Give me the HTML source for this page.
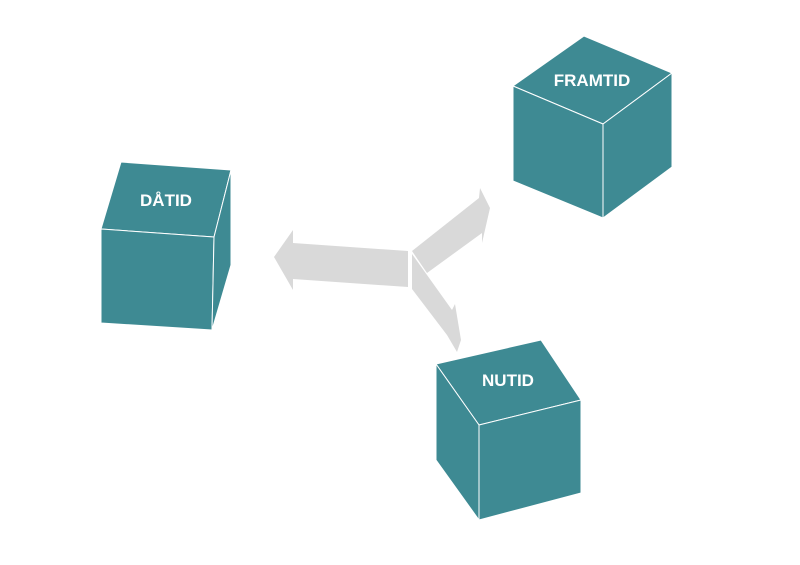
<!DOCTYPE html>
<html><head><style>body{margin:0;background:#fff}svg{display:block}</style></head><body>
<svg width="800" height="565" viewBox="0 0 800 565" xmlns="http://www.w3.org/2000/svg">
<g fill="#d9d9d9">
<polygon points="408,251 293,243 293,230 274,257 293,290 293,279 408,287"/>
<polygon points="412,251 479,198 480,188 490,208 482,243 482,233 427,273"/>
<polygon points="412,254 452,310 455,304 461,340 457,352 447,335 412,289"/>
</g>
<g fill="#3e8a93" stroke="#ffffff" stroke-width="1" stroke-linejoin="round">
<polygon points="513,86 584,36 672,73 603,124"/>
<polygon points="513,86 603,124 603,218 513,181"/>
<polygon points="603,124 672,73 672,167 603,218"/>
<polygon points="121,162 231,170 214,237 101,229"/>
<polygon points="101,229 214,237 212,330 101,323"/>
<polygon points="214,237 231,170 231,265 212,330"/>
<polygon points="436,364 541,340 581,400 479,425"/>
<polygon points="436,364 479,425 479,520 436,460"/>
<polygon points="479,425 581,400 581,493 479,520"/>
</g>
<g fill="#fff" font-family="Liberation Sans, sans-serif" font-weight="bold" font-size="17" text-anchor="middle">
<text x="592" y="86">FRAMTID</text>
<text x="166" y="206">DÅTID</text>
<text x="508" y="386">NUTID</text>
</g>
</svg>
</body></html>
